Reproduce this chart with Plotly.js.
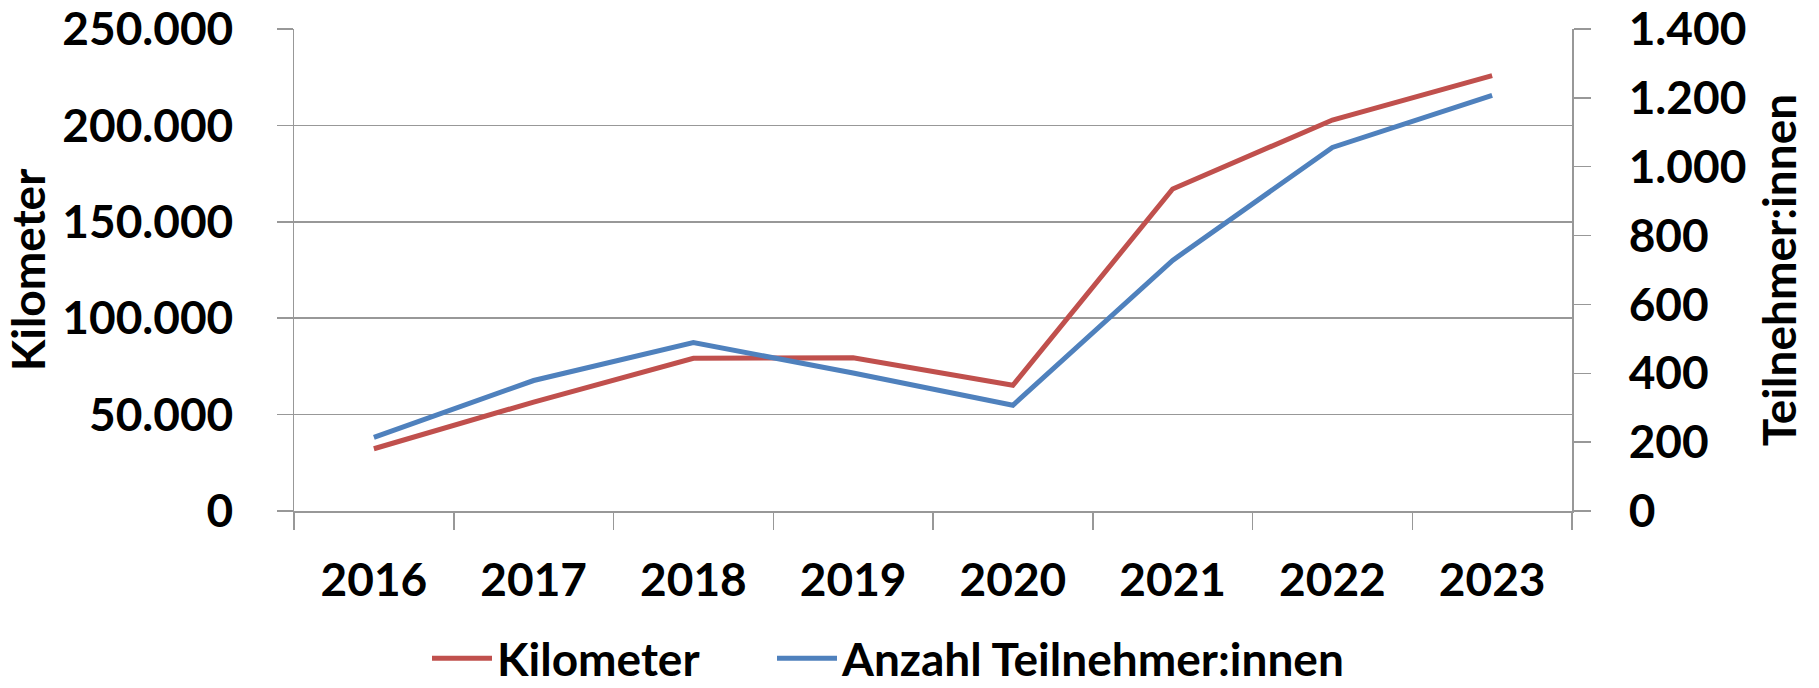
<!DOCTYPE html>
<html>
<head>
<meta charset="utf-8">
<script src="https://cdn.plot.ly/plotly-3.0.1.min.js"></script>
<style>
  html, body { margin: 0; padding: 0; background: #ffffff; }
  #chart { width: 1819px; height: 688px; }
</style>
</head>
<body>
<div id="chart"></div>
<script>
// Data
const years = ["2016", "2017", "2018", "2019", "2020", "2021", "2022", "2023"];
const kilometer = [32300, 56500, 79200, 79500, 65200, 167000, 202800, 225800];
const teilnehmer = [214, 379, 489, 401, 307, 728, 1056, 1207];

const seriesNames = ["Kilometer", "Anzahl Teilnehmer:innen"];
const leftTitle = "Kilometer";
const rightTitle = "Teilnehmer:innen";

const FONT = { family: "Lato, 'Open Sans', sans-serif", size: 46, color: "#000000", weight: "bold" };
const GRID = "#989898";

const traces = [
  {
    x: years, y: kilometer, name: seriesNames[0], type: "scatter", mode: "lines",
    line: { color: "#C0504D", width: 5 }, yaxis: "y", legend: "legend"
  },
  {
    x: years, y: teilnehmer, name: seriesNames[1], type: "scatter", mode: "lines",
    line: { color: "#4F81BD", width: 5 }, yaxis: "y2", legend: "legend2"
  }
];

const legendBase = {
  orientation: "h",
  xref: "container", yref: "container",
  xanchor: "left",
  y: 0.043, yanchor: "middle",
  itemwidth: 60,
  font: FONT,
  bgcolor: "rgba(0,0,0,0)"
};

const layout = {
  width: 1819, height: 688,
  margin: { l: 294, r: 247, t: 29, b: 177 },
  paper_bgcolor: "#ffffff", plot_bgcolor: "#ffffff",
  separators: ",.",
  font: FONT,
  showlegend: true,
  legend: Object.assign({}, legendBase, { x: 427 / 1819 }),
  legend2: Object.assign({}, legendBase, { x: 772 / 1819 }),
  xaxis: {
    type: "category",
    range: [-0.5, 7.5],
    showgrid: false,
    showline: true, linecolor: GRID, linewidth: 1.5,
    ticks: "outside", tickson: "boundaries", ticklen: 17, tickcolor: GRID, tickwidth: 1.5,
    tickfont: FONT,
    ticklabelstandoff: 28,
    zeroline: false, fixedrange: true
  },
  yaxis: {
    range: [0, 250000],
    dtick: 50000, tick0: 0,
    tickformat: ",d",
    showgrid: true, gridcolor: GRID, gridwidth: 1.5,
    showline: true, linecolor: GRID, linewidth: 1.5,
    ticks: "outside", ticklen: 16, tickcolor: GRID, tickwidth: 1.5,
    tickfont: FONT,
    ticklabelstandoff: 34,
    zeroline: false,
    title: { text: leftTitle, font: FONT, standoff: 8 },
    fixedrange: true
  },
  yaxis2: {
    overlaying: "y", side: "right",
    range: [0, 1400],
    dtick: 200, tick0: 0,
    tickformat: ",d",
    showgrid: false,
    showline: true, linecolor: GRID, linewidth: 1.5,
    ticks: "outside", ticklen: 17, tickcolor: GRID, tickwidth: 1.5,
    tickfont: FONT,
    ticklabelstandoff: 29,
    zeroline: false,
    title: { text: rightTitle, font: FONT, standoff: 18 },
    fixedrange: true
  }
};

Plotly.newPlot("chart", traces, layout, { displayModeBar: false, staticPlot: true });
</script>
</body>
</html>
